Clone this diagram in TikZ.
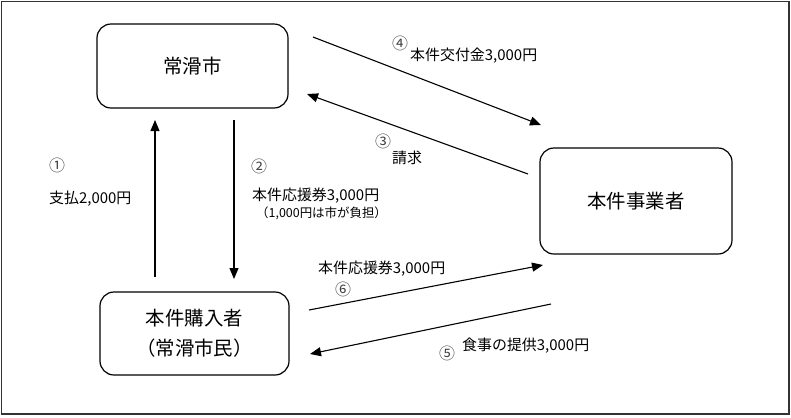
\documentclass[tikz,border=0pt]{standalone}
\usepackage{fontspec}
\setmainfont{Noto Sans CJK JP}
\usetikzlibrary{arrows.meta}

\begin{document}
\begin{tikzpicture}[x=1bp, y=-1bp,
box/.style={rectangle, draw=black, line width=1.2bp, rounded corners=14bp, align=center, font=\fontsize{19.5}{30}\selectfont},
flow/.style={-{Triangle[length=11bp,width=9bp]}, line width=1.1bp},
lbl/.style={inner sep=0pt, anchor=west, font=\fontsize{15}{16}\selectfont},
note/.style={inner sep=0pt, anchor=west, font=\fontsize{12.5}{13}\selectfont},
num/.style={inner sep=0pt, text=black!75, font=\fontsize{16}{17}\selectfont},
]
\useasboundingbox (0,0) rectangle (791,417);
\draw[line width=1.8bp, black!80] (1.5,1.5) rectangle (789,414);

%Nodes
\node[box, minimum width=191bp, minimum height=84bp] (city) at (192.5,66) {常滑市};
\node[box, minimum width=189bp, minimum height=83bp] (buyer) at (194.5,333.5) {本件購入者\\（常滑市民）};
\node[box, minimum width=192bp, minimum height=106bp] (shop) at (636,201) {本件事業者};

\coordinate (pay) at (155,277);
\coordinate (payend) at (155,120);
\coordinate (ticket) at (234,120);
\coordinate (ticketend) at (234,279);
\coordinate (grant) at (313,37);
\coordinate (grantend) at (541,125);
\coordinate (claim) at (528,174);
\coordinate (claimend) at (307,94);
\coordinate (use) at (309,310);
\coordinate (useend) at (543,265);
\coordinate (meal) at (551,304);
\coordinate (mealend) at (310,354);

%Labels
\node[num] (n1) at (57,165) {①};
\node[lbl] (pay label) at (49,199) {支払2,000円};
\node[num] (n2) at (259,166) {②};
\node[lbl] (ticket label) at (252,196) {本件応援券3,000円};
\node[note] (ticket note) at (256,213) {（1,000円は市が負担）};
\node[num] (n4) at (400,43) {④};
\node[lbl] (grant label) at (410,56) {本件交付金3,000円};
\node[num] (n3) at (383,141) {③};
\node[lbl] (claim label) at (392,158) {請求};
\node[lbl] (use label) at (318,269) {本件応援券3,000円};
\node[num] (n6) at (343,289) {⑥};
\node[num] (n5) at (447,353) {⑤};
\node[lbl] (meal label) at (462,346) {食事の提供3,000円};

%Lines
\draw[flow] (pay) -- (payend);
\draw[flow] (ticket) -- (ticketend);
\draw[flow] (grant) -- (grantend);
\draw[flow] (claim) -- (claimend);
\draw[flow] (use) -- (useend);
\draw[flow] (meal) -- (mealend);

\end{tikzpicture}
\end{document}
